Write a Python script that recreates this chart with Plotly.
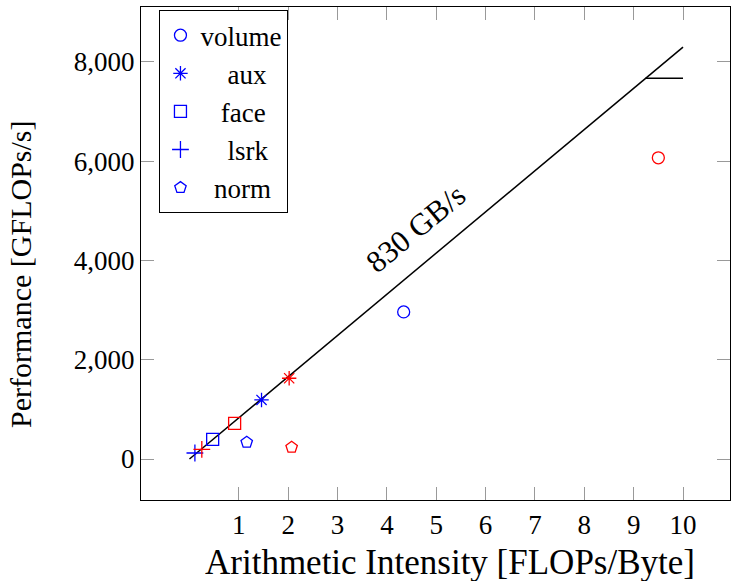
import plotly.graph_objects as go

# Data
kernels = ["volume", "aux", "face", "lsrk", "norm"]
symbols = ["circle-open", "asterisk-open", "square-open", "cross-thin-open", "pentagon-open"]
blue_ai = [4.34, 1.46, 0.47, 0.11, 1.16]
blue_perf = [2964, 1190, 397, 121, 336]
red_ai = [9.50, 2.02, 0.915, 0.25, 2.07]
red_perf = [6069, 1627, 720, 196, 236]

bandwidth = 830          # GB/s
peak = 7670              # GFLOPs/s
roof_x = [0.0, 10.0]
flat_x = [peak / bandwidth, 10.0]

xticks = [1, 2, 3, 4, 5, 6, 7, 8, 9, 10]
yticks = [0, 2000, 4000, 6000, 8000]

x_title = "Arithmetic Intensity [FLOPs/Byte]"
y_title = "Performance [GFLOPs/s]"

FONT = "Liberation Serif"
TICK_SIZE = 27

fig = go.Figure()

fig.add_trace(go.Scatter(x=roof_x, y=[bandwidth * v for v in roof_x], mode="lines",
                         line=dict(color="black", width=1.5), showlegend=False, hoverinfo="skip"))
fig.add_trace(go.Scatter(x=flat_x, y=[peak, peak], mode="lines",
                         line=dict(color="black", width=1.5), showlegend=False, hoverinfo="skip"))

pad = {"volume": 0, "aux": 4, "face": 3, "lsrk": 4, "norm": 2}
for i, k in enumerate(kernels):
    label = "\u00a0" * pad[k] + k
    fig.add_trace(go.Scatter(x=[blue_ai[i]], y=[blue_perf[i]], mode="markers", name=label,
                             marker=dict(symbol=symbols[i], size=12, color="#0000ff",
                                         line=dict(color="#0000ff", width=1.3))))
for i, k in enumerate(kernels):
    fig.add_trace(go.Scatter(x=[red_ai[i]], y=[red_perf[i]], mode="markers", showlegend=False,
                             marker=dict(symbol=symbols[i], size=12, color="#ff0000",
                                         line=dict(color="#ff0000", width=1.3))))

fig.add_annotation(x=4.585, y=4637, text="830 GB/s", showarrow=False, textangle=-39.7,
                   font=dict(family=FONT, size=31, color="black"))

# axis titles
fig.add_annotation(xref="paper", yref="paper", x=0.524, y=-0.126, text=x_title,
                   showarrow=False, xanchor="center", yanchor="middle",
                   font=dict(family=FONT, size=35, color="black"))
fig.add_annotation(xref="paper", yref="paper", x=-0.205, y=0.457, text=y_title,
                   showarrow=False, xanchor="center", yanchor="middle", textangle=-90,
                   font=dict(family=FONT, size=30, color="black"))

axis_common = dict(showline=True, linecolor="black", linewidth=1.2, mirror="ticks",
                   ticks="inside", ticklen=13, tickcolor="#999999", tickwidth=1.2,
                   showgrid=False, zeroline=False,
                   tickfont=dict(family=FONT, size=TICK_SIZE, color="black"))

fig.update_layout(
    width=731, height=581,
    margin=dict(l=141, r=0, t=7, b=81),
    plot_bgcolor="white", paper_bgcolor="white",
    font=dict(family=FONT, size=TICK_SIZE, color="black"),
    xaxis=dict(range=[-0.982, 10.952], tickvals=xticks, **axis_common),
    yaxis=dict(range=[-826, 9108], tickvals=yticks, tickformat=",", **axis_common),
    legend=dict(x=0.031, y=0.994, xanchor="left", yanchor="top",
                bordercolor="black", borderwidth=1.2, bgcolor="white",
                font=dict(family=FONT, size=27), itemwidth=30, tracegroupgap=0),
    showlegend=True,
)

post = ("document.body.style.margin='0';document.body.style.overflow='hidden';"
        "var gd=document.getElementById('{plot_id}');Plotly.relayout(gd,{width:731,height:581});")
fig.write_html("out.html", config={"responsive": False, "displayModeBar": False}, post_script=post)
